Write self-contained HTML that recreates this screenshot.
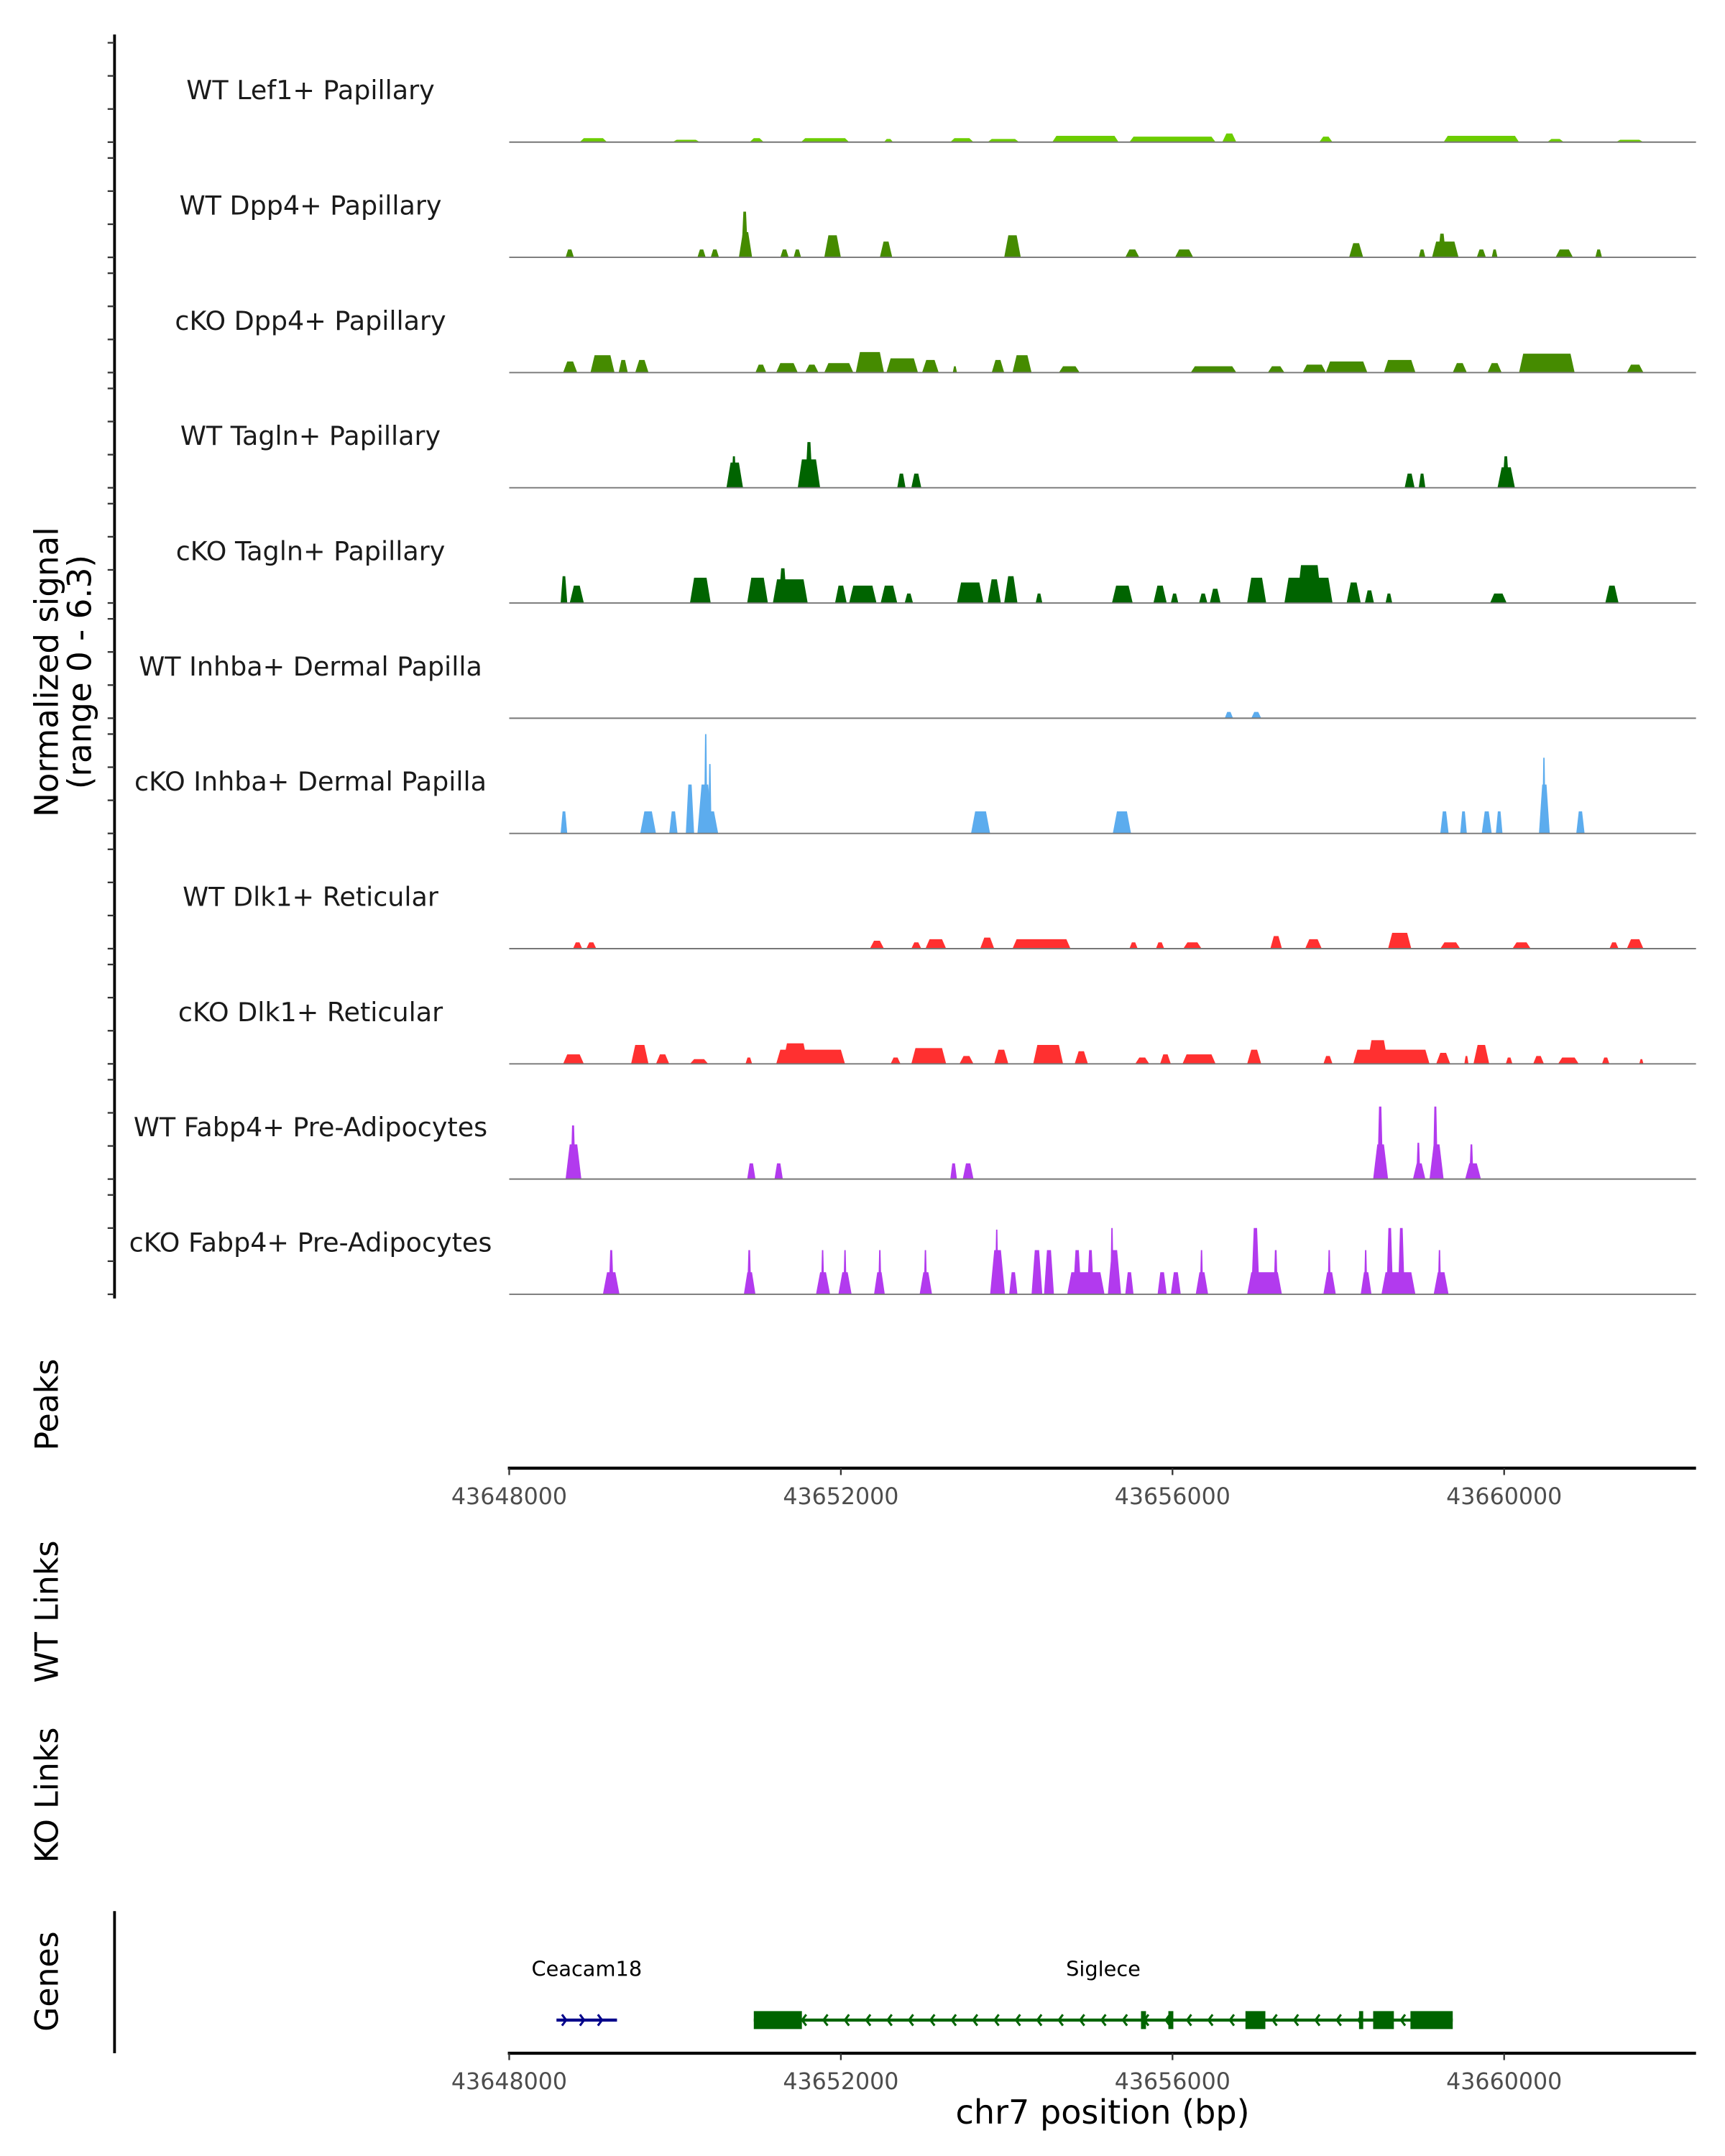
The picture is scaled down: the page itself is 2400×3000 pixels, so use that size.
<!DOCTYPE html>
<html><head><meta charset="utf-8"><title>Coverage plot chr7</title>
<style>html,body{margin:0;padding:0;background:#fff}svg{display:block}text{font-family:"DejaVu Sans","Liberation Sans",sans-serif}</style>
</head><body>
<svg id="chart" xmlns="http://www.w3.org/2000/svg" width="2400" height="3000" viewBox="0 0 1250 1562.5"></svg>
<script>
// ---- data (positions in kb offset from 43,648,000 bp; values in normalized signal) ----
const trackNames = ["WT Lef1+ Papillary","WT Dpp4+ Papillary","cKO Dpp4+ Papillary","WT Tagln+ Papillary","cKO Tagln+ Papillary","WT Inhba+ Dermal Papilla","cKO Inhba+ Dermal Papilla","WT Dlk1+ Reticular","cKO Dlk1+ Reticular","WT Fabp4+ Pre-Adipocytes","cKO Fabp4+ Pre-Adipocytes"];
const trackColors = ["#6CCD00","#458B00","#458B00","#006400","#006400","#5CACEE","#5CACEE","#FF3030","#FF3030","#B23AEE","#B23AEE"];
const lef1WT = [[0.85,1.18,0.25],[1.97,2.3,0.15],[2.9,3.07,0.25],[3.52,4.1,0.25],[4.52,4.63,0.2],[5.32,5.6,0.25],[5.77,6.15,0.2],[6.55,7.35,0.4],[7.48,8.52,0.35],[8.6,8.77,0.55],[9.77,9.93,0.35],[11.27,12.18,0.4],[12.52,12.72,0.2],[13.35,13.68,0.15]];
const dpp4WT = [[0.68,0.78,0.5],[2.27,2.37,0.5],[2.43,2.53,0.5],[2.77,2.93,1.6],[2.8,2.88,2.9],[3.27,3.37,0.5],[3.43,3.52,0.5],[3.8,4.0,1.4],[4.47,4.62,1.0],[5.97,6.17,1.4],[7.43,7.6,0.5],[8.03,8.25,0.5],[10.13,10.3,0.9],[10.97,11.05,0.5],[11.13,11.45,1.0],[11.2,11.3,1.5],[11.67,11.78,0.5],[11.85,11.92,0.5],[12.62,12.83,0.5],[13.1,13.18,0.5]];
const dpp4KO = [[0.65,0.82,0.7],[0.98,1.27,1.1],[1.32,1.43,0.8],[1.52,1.68,0.8],[2.97,3.1,0.5],[3.22,3.48,0.6],[3.57,3.73,0.5],[3.8,4.15,0.6],[4.18,4.52,1.3],[4.55,4.93,0.9],[4.98,5.18,0.8],[5.35,5.4,0.4],[5.82,5.97,0.8],[6.07,6.3,1.1],[6.63,6.88,0.4],[8.22,8.77,0.4],[9.15,9.35,0.4],[9.57,9.85,0.5],[9.85,10.35,0.7],[10.55,10.93,0.8],[11.38,11.55,0.6],[11.8,11.97,0.6],[12.18,12.85,1.2],[13.48,13.68,0.5]];
const taglnWT = [[2.62,2.82,1.6],[2.68,2.74,2.0],[3.48,3.75,1.8],[3.57,3.66,2.9],[4.68,4.78,0.9],[4.85,4.97,0.9],[10.8,10.92,0.9],[10.97,11.05,0.9],[11.92,12.13,1.3],[11.98,12.06,2.0]];
const taglnKO = [[0.62,0.7,1.7],[0.73,0.9,1.1],[2.18,2.43,1.6],[2.87,3.12,1.6],[3.18,3.6,1.5],[3.25,3.35,2.2],[3.93,4.07,1.1],[4.1,4.43,1.1],[4.48,4.68,1.1],[4.77,4.87,0.6],[5.4,5.72,1.3],[5.77,5.93,1.5],[5.97,6.13,1.7],[6.35,6.43,0.6],[7.27,7.52,1.1],[7.77,7.93,1.1],[7.98,8.07,0.6],[8.32,8.42,0.6],[8.45,8.58,0.9],[8.9,9.13,1.6],[9.35,9.93,1.6],[9.5,9.8,2.4],[10.1,10.27,1.3],[10.32,10.43,0.8],[10.57,10.65,0.6],[11.83,12.03,0.6],[13.22,13.38,1.1]];
const inhbaWT = [[8.63,8.73,0.4],[8.95,9.07,0.4]];
const inhbaKO = [[0.62,0.7,1.4],[1.58,1.77,1.4],[1.93,2.03,1.4],[2.13,2.23,3.1],[2.27,2.52,1.4],[2.27,2.45,3.1],[2.35,2.39,6.3],[2.4,2.44,4.4],[5.57,5.8,1.4],[7.28,7.5,1.4],[11.23,11.33,1.4],[11.47,11.55,1.4],[11.73,11.85,1.4],[11.9,11.98,1.4],[12.42,12.55,3.1],[12.46,12.5,4.8],[12.87,12.97,1.4]];
const dlk1WT = [[0.77,0.88,0.4],[0.93,1.05,0.4],[4.35,4.52,0.5],[4.85,4.97,0.4],[5.02,5.27,0.6],[5.68,5.85,0.7],[6.07,6.77,0.6],[7.48,7.58,0.4],[7.8,7.9,0.4],[8.13,8.35,0.4],[9.18,9.32,0.8],[9.6,9.8,0.6],[10.6,10.88,1.0],[11.23,11.47,0.4],[12.1,12.32,0.4],[13.27,13.38,0.4],[13.48,13.68,0.6]];
const dlk1KO = [[0.65,0.9,0.6],[1.47,1.68,1.2],[1.77,1.93,0.6],[2.18,2.4,0.3],[2.85,2.93,0.4],[3.22,4.05,0.9],[3.3,3.6,1.3],[4.6,4.72,0.4],[4.85,5.27,1.0],[5.43,5.6,0.5],[5.85,6.02,0.9],[6.32,6.68,1.2],[6.82,6.98,0.8],[7.55,7.72,0.4],[7.85,7.98,0.6],[8.12,8.52,0.6],[8.9,9.07,0.9],[9.82,9.93,0.5],[10.18,11.1,0.9],[10.35,10.6,1.5],[11.18,11.35,0.7],[11.52,11.57,0.5],[11.63,11.82,1.2],[12.02,12.1,0.4],[12.35,12.48,0.5],[12.65,12.9,0.4],[13.18,13.27,0.4],[13.63,13.68,0.3]];
const fabp4WT = [[0.68,0.87,2.2],[0.74,0.8,3.4],[2.87,2.97,1.0],[3.2,3.3,1.0],[5.32,5.4,1.0],[5.47,5.6,1.0],[10.42,10.6,2.2],[10.47,10.54,4.6],[10.9,11.05,1.0],[10.94,10.99,2.3],[11.1,11.27,2.2],[11.14,11.2,4.6],[11.53,11.72,1.0],[11.58,11.63,2.2]];
const fabp4KO = [[1.13,1.33,1.4],[1.2,1.26,2.8],[2.83,2.97,1.4],[2.87,2.92,2.8],[3.7,3.87,1.4],[3.76,3.8,2.8],[3.97,4.13,1.4],[4.03,4.07,2.8],[4.4,4.53,1.4],[4.45,4.49,2.8],[4.95,5.1,1.4],[5.0,5.04,2.8],[5.8,5.98,2.8],[5.86,5.9,4.1],[6.03,6.13,1.4],[6.3,6.43,2.8],[6.45,6.57,2.8],[6.73,7.18,1.4],[6.8,6.9,2.8],[6.97,7.05,2.8],[7.22,7.38,2.8],[7.25,7.29,4.2],[7.43,7.53,1.4],[7.82,7.93,1.4],[7.98,8.1,1.4],[8.28,8.43,1.4],[8.33,8.37,2.8],[8.9,9.32,1.4],[8.95,9.05,4.2],[9.22,9.27,2.8],[9.82,9.97,1.4],[9.87,9.91,2.8],[10.27,10.4,1.4],[10.31,10.35,2.8],[10.52,10.93,1.4],[10.58,10.66,4.2],[10.72,10.8,4.2],[11.15,11.33,1.4],[11.2,11.24,2.8]];
const trackData = [lef1WT,dpp4WT,dpp4KO,taglnWT,taglnKO,inhbaWT,inhbaKO,dlk1WT,dlk1KO,fabp4WT,fabp4KO];
const xTicks = [0,4,8,12];
const xTickLabels = ["43648000","43652000","43656000","43660000"];
const geneNames = ["Ceacam18","Siglece"];
const geneSpans = [[0.57,1.3],[2.95,11.38]];
const geneStrand = [1,-1];
const siglecExons = [[2.95,3.53],[7.62,7.68],[7.95,8.01],[8.88,9.12],[10.25,10.3],[10.42,10.67],[10.87,11.38]];

// ---- scales ----
const X0 = 369, PXKB = 60.08, XEND = 1229;
const xs = kb => X0 + kb * PXKB;
const baseline0 = 103, trackStep = 83.5, yPerUnit = 72 / 6.3;
const ys = (i, v) => baseline0 + i * trackStep - v * yPerUnit;
const NS = "http://www.w3.org/2000/svg";
const svg = document.getElementById("chart");
function mk(tag, attrs, parent) {
  const e = document.createElementNS(NS, tag);
  for (const k in attrs) e.setAttribute(k, attrs[k]);
  (parent || svg).appendChild(e);
  return e;
}

// y-axis
const yAxis = mk("line", {x1:83,x2:83,y1:25,y2:941,stroke:"#000","stroke-width":2});


for (let i = 0; i < trackNames.length; i++) {
  for (let k = 0; k < 4; k++) {
    const t = mk("line", {x1:78,x2:83,y1:ys(i,k*2.1),y2:ys(i,k*2.1),stroke:"#333","stroke-width":1.2});
    
    
  }
}
const yt = mk("text", {x:0,y:0,"font-size":23.5,"text-anchor":"middle",transform:"translate(42,487) rotate(-90)"});


mk("tspan", {x:0,dy:0}, yt).textContent = "Normalized signal";
mk("tspan", {x:0,dy:24}, yt).textContent = "(range 0 - 6.3)";

// tracks
for (let i = 0; i < trackNames.length; i++) {
  const g = mk("g", {});
  
  
  const lab = mk("text", {x:225,y:ys(i,0)-31,"font-size":19,"text-anchor":"middle",fill:"#1a1a1a"}, g);
  
  
  lab.textContent = trackNames[i];
  for (const p of trackData[i]) {
    const a = xs(p[0]), b = xs(p[1]), w = b - a, r = Math.min(w * 0.3, 3);
    const y0 = ys(i,0), y1 = ys(i,p[2]);
    const poly = mk("polygon", {points:`${a},${y0} ${a+r},${y1} ${b-r},${y1} ${b},${y0}`, fill:trackColors[i]}, g);
    
    
  }
  const bl = mk("line", {x1:X0,x2:XEND,y1:ys(i,0),y2:ys(i,0),stroke:"#777","stroke-width":1}, g);
  
  
}

// side labels
const sideLabels = [["Peaks",1018],["WT Links",1168],["KO Links",1301],["Genes",1436]];
for (const s of sideLabels) {
  const t = mk("text", {x:0,y:0,"font-size":23,"text-anchor":"middle",transform:`translate(42,${s[1]}) rotate(-90)`});
  
  
  t.textContent = s[0];
}

// x axes
function xAxis(y, name) {
  const ax = mk("line", {x1:X0-1,x2:XEND,y1:y,y2:y,stroke:"#000","stroke-width":2.2});
  
  
  xTicks.forEach((v, j) => {
    const tk = mk("line", {x1:xs(v),x2:xs(v),y1:y,y2:y+5,stroke:"#333","stroke-width":1.2});
    
    
    const tl = mk("text", {x:xs(v),y:y+26,"font-size":16.5,"text-anchor":"middle",fill:"#4d4d4d"});
    
    
    tl.textContent = xTickLabels[j];
  });
}
xAxis(1064, 'peaks-x-axis');
xAxis(1488, 'genes-x-axis');
const xt = mk("text", {x:799,y:1539,"font-size":24,"text-anchor":"middle"});


xt.textContent = "chr7 position (bp)";

// genes panel
const gAxis = mk("line", {x1:83,x2:83,y1:1385,y2:1488,stroke:"#000","stroke-width":2});


const gy = 1464;
const geneColors = ["#00008B","#006400"];
geneSpans.forEach((s, j) => {
  const g = mk("g", {});
  
  
  const a = xs(s[0]), b = xs(s[1]);
  mk("line", {x1:a,x2:b,y1:gy,y2:gy,stroke:geneColors[j],"stroke-width":2.2}, g);
  const step = j === 0 ? 13 : 15.5;
  for (let x = a + 4; x < b - 2; x += step) {
    const d = geneStrand[j] > 0 ? `M${x},${gy-4} L${x+3},${gy} L${x},${gy+4}` : `M${x+3},${gy-4} L${x},${gy} L${x+3},${gy+4}`;
    const ch = mk("path", {d, fill:"none", stroke:geneColors[j], "stroke-width":1.6}, g);
    
    
  }
  const lab = mk("text", {x:(a+b)/2,y:1432,"font-size":15,"text-anchor":"middle"}, g);
  
  
  lab.textContent = geneNames[j];
});
for (const e of siglecExons) {
  const r = mk("rect", {x:xs(e[0]),y:gy-6.5,width:xs(e[1])-xs(e[0]),height:13,fill:"#006400"});
  
  
}
</script>
</body></html>
